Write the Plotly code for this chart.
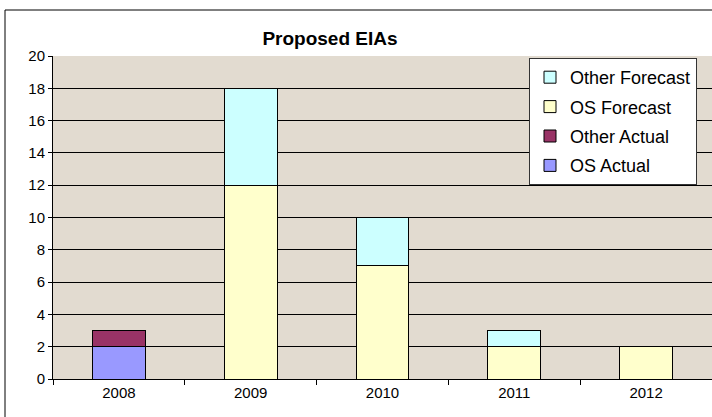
import plotly.graph_objects as go

years = ["2008", "2009", "2010", "2011", "2012"]
os_actual = [2, 0, 0, 0, 0]
other_actual = [1, 0, 0, 0, 0]
os_forecast = [0, 12, 7, 2, 2]
other_forecast = [0, 6, 3, 1, 0]
y_ticks = list(range(0, 21, 2))

series = [
    ("OS Actual", os_actual, "#9999FF"),
    ("Other Actual", other_actual, "#993366"),
    ("OS Forecast", os_forecast, "#FFFFCC"),
    ("Other Forecast", other_forecast, "#CCFFFF"),
]

fig = go.Figure()
for i, (name, vals, col) in enumerate(series):
    fig.add_trace(go.Bar(
        x=years, y=vals, name=name, legendgroup=name, legendrank=1000 - i,
        marker=dict(color=col, line=dict(color="black", width=1)),
    ))

L, T, B = 53, 56, 38
W, H = 712, 417
pw = W - L
ph = H - T - B

def px_x(p):
    return (p - L) / pw

def px_y(p):
    return (H - B - p) / ph

fig.update_layout(
    width=W, height=H,
    margin=dict(l=L, r=0, t=T, b=B, autoexpand=False),
    barmode="stack", bargap=0.6,
    paper_bgcolor="white", plot_bgcolor="#E2DBD0",
    font=dict(family="Liberation Sans, Arial", size=15, color="black"),
    title=dict(text="<b>Proposed EIAs</b>", font=dict(size=19, color="black"),
               x=px_x(330), xanchor="center", y=1 - 38 / H, yanchor="middle", xref="paper"),
    legend=dict(traceorder="grouped", x=px_x(529), y=px_y(58), xanchor="left", yanchor="top",
                bgcolor="white", bordercolor="#333333", borderwidth=1,
                font=dict(size=18), itemwidth=30, tracegroupgap=3),
    showlegend=True,
    xaxis=dict(showline=True, linecolor="black", linewidth=1, ticks="outside", tickson="boundaries",
               ticklen=5, tickcolor="black", showgrid=False, tickfont=dict(size=15), automargin=False),
    yaxis=dict(range=[0, 20], tickvals=y_ticks, showline=True, linecolor="black", linewidth=1,
               ticks="outside", ticklen=4, tickcolor="black", showgrid=True, gridcolor="black",
               gridwidth=1, zeroline=False, tickfont=dict(size=15), automargin=False),
)

fig.add_shape(type="rect", xref="paper", yref="paper",
              x0=px_x(5), x1=px_x(720), y0=px_y(425), y1=px_y(10),
              line=dict(color="black", width=1), fillcolor="rgba(0,0,0,0)", layer="below")

fig.write_html("out.html", config={"displayModeBar": False},
               post_script="document.body.style.margin='0';document.body.style.overflow='hidden';")
